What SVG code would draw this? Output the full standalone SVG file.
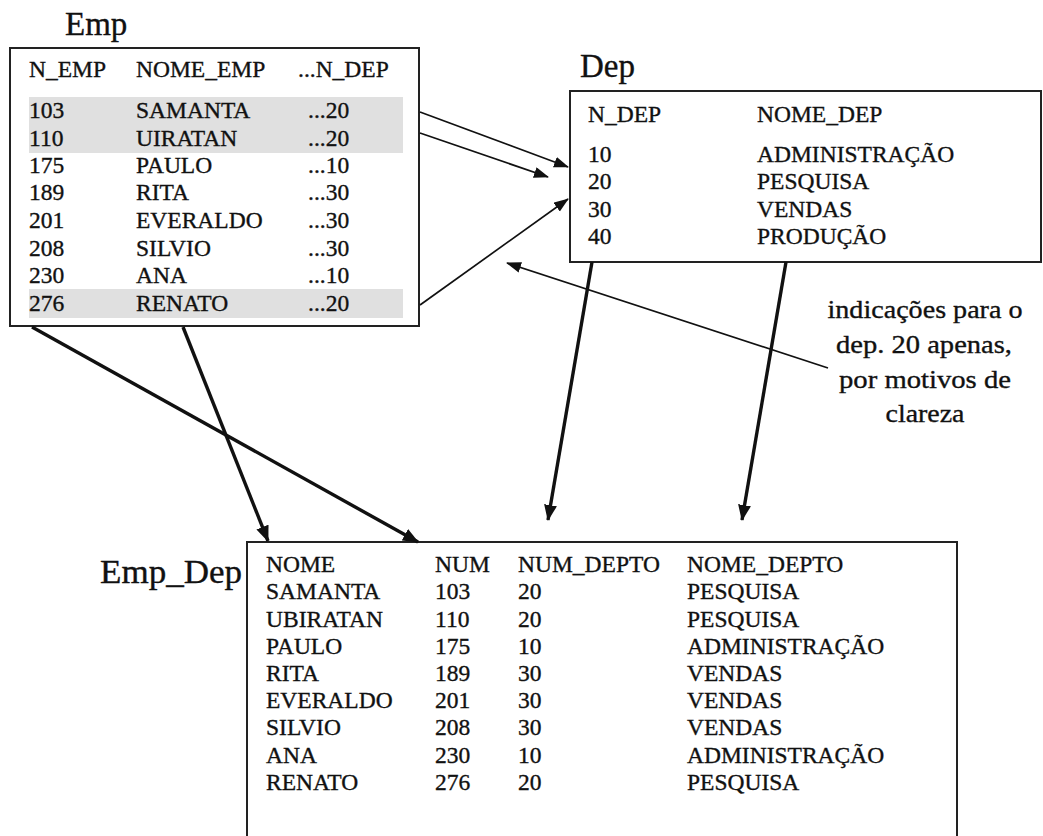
<svg xmlns="http://www.w3.org/2000/svg" width="1043" height="836" viewBox="0 0 1043 836">
<style>
text{font-family:"Liberation Serif","Times New Roman",serif;fill:#111;stroke:#111;stroke-width:0.35}
.t{font-size:23.5px}
.title{font-size:33px}
.note{font-size:26px}
.box{fill:#fff;stroke:#222;stroke-width:2}
.hl{fill:#e0e0e0}
.thin{fill:none;stroke:#111;stroke-width:1.7}
.thick{fill:none;stroke:#111;stroke-width:3.4}
</style>
<defs>
<marker id="ah" markerUnits="userSpaceOnUse" markerWidth="15" markerHeight="12" refX="14" refY="5.5" orient="auto"><path d="M0,0 L15,5.5 L0,11 z" fill="#111"/></marker>
<marker id="ahb" markerUnits="userSpaceOnUse" markerWidth="16" markerHeight="13" refX="15" refY="6.5" orient="auto"><path d="M0,0 L16,6.5 L0,13 z" fill="#111"/></marker>
</defs>
<rect width="1043" height="836" fill="#fff"/>

<g id="emp">
<text class="title" x="65" y="35">Emp</text>
<rect class="box" x="10" y="48" width="409" height="278"/>
<rect class="hl" x="29" y="97" width="374" height="56"/>
<rect class="hl" x="29" y="289" width="374" height="29"/>
<g class="t">
<text x="29" y="77">N_EMP</text><text x="136" y="77">NOME_EMP</text><text x="298" y="77">...N_DEP</text>
<text x="29" y="118">103</text><text x="136" y="118">SAMANTA</text><text x="308" y="118">...20</text>
<text x="29" y="146">110</text><text x="136" y="146">UIRATAN</text><text x="308" y="146">...20</text>
<text x="29" y="173">175</text><text x="136" y="173">PAULO</text><text x="308" y="173">...10</text>
<text x="29" y="200">189</text><text x="136" y="200">RITA</text><text x="308" y="200">...30</text>
<text x="29" y="228">201</text><text x="136" y="228">EVERALDO</text><text x="308" y="228">...30</text>
<text x="29" y="256">208</text><text x="136" y="256">SILVIO</text><text x="308" y="256">...30</text>
<text x="29" y="283">230</text><text x="136" y="283">ANA</text><text x="308" y="283">...10</text>
<text x="29" y="311">276</text><text x="136" y="311">RENATO</text><text x="308" y="311">...20</text>
</g>
</g>

<g id="dep">
<text class="title" x="580" y="77">Dep</text>
<rect class="box" x="570" y="91" width="471" height="171"/>
<g class="t">
<text x="588" y="122">N_DEP</text><text x="757" y="122">NOME_DEP</text>
<text x="588" y="162">10</text><text x="757" y="162">ADMINISTRAÇÃO</text>
<text x="588" y="189">20</text><text x="757" y="189">PESQUISA</text>
<text x="588" y="217">30</text><text x="757" y="217">VENDAS</text>
<text x="588" y="244">40</text><text x="757" y="244">PRODUÇÃO</text>
</g>
</g>

<g id="emp_dep">
<text class="title" x="100" y="583" textLength="142" lengthAdjust="spacingAndGlyphs">Emp_Dep</text>
<rect class="box" x="247" y="542" width="710" height="310"/>
<g class="t">
<text x="266" y="572">NOME</text><text x="435" y="572">NUM</text><text x="518" y="572">NUM_DEPTO</text><text x="687" y="572">NOME_DEPTO</text>
<text x="266" y="599">SAMANTA</text><text x="435" y="599">103</text><text x="518" y="599">20</text><text x="687" y="599">PESQUISA</text>
<text x="266" y="627">UBIRATAN</text><text x="435" y="627">110</text><text x="518" y="627">20</text><text x="687" y="627">PESQUISA</text>
<text x="266" y="654">PAULO</text><text x="435" y="654">175</text><text x="518" y="654">10</text><text x="687" y="654">ADMINISTRAÇÃO</text>
<text x="266" y="681">RITA</text><text x="435" y="681">189</text><text x="518" y="681">30</text><text x="687" y="681">VENDAS</text>
<text x="266" y="708">EVERALDO</text><text x="435" y="708">201</text><text x="518" y="708">30</text><text x="687" y="708">VENDAS</text>
<text x="266" y="735">SILVIO</text><text x="435" y="735">208</text><text x="518" y="735">30</text><text x="687" y="735">VENDAS</text>
<text x="266" y="763">ANA</text><text x="435" y="763">230</text><text x="518" y="763">10</text><text x="687" y="763">ADMINISTRAÇÃO</text>
<text x="266" y="790">RENATO</text><text x="435" y="790">276</text><text x="518" y="790">20</text><text x="687" y="790">PESQUISA</text>
</g>
</g>

<g id="note" class="note" text-anchor="middle">
<text x="925" y="318" textLength="195" lengthAdjust="spacingAndGlyphs">indicações para o</text>
<text x="924" y="353" textLength="176" lengthAdjust="spacingAndGlyphs">dep. 20 apenas,</text>
<text x="925" y="388" textLength="172" lengthAdjust="spacingAndGlyphs">por motivos de</text>
<text x="925" y="422" textLength="79" lengthAdjust="spacingAndGlyphs">clareza</text>
</g>

<g id="connectors">
<path class="thin" d="M420,112 L568,167" marker-end="url(#ah)"/>
<path class="thin" d="M420,133 L548,177" marker-end="url(#ah)"/>
<path class="thin" d="M420,305 L568,199" marker-end="url(#ah)"/>
<path class="thin" d="M828,368 L507,263" marker-end="url(#ah)"/>
<path class="thick" d="M592,262 L548,520" marker-end="url(#ahb)"/>
<path class="thick" d="M786,262 L742,520" marker-end="url(#ahb)"/>
<path class="thick" d="M32,327 L418,542" marker-end="url(#ahb)"/>
<path class="thick" d="M183,327 L268,541" marker-end="url(#ahb)"/>
</g>
</svg>
